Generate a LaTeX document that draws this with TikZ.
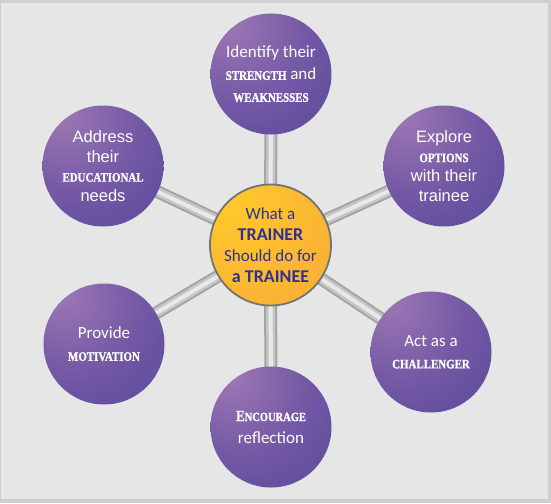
\documentclass[tikz,border=0pt]{standalone}
\usepackage{fontspec}
\setmainfont{Carlito}
\newfontfamily\arialfont{Liberation Sans}
\newfontfamily\capsfont[FakeStretch=0.84,FakeBold=1.2]{Liberation Serif}
\newcommand{\capsword}[1]{{\capsfont\bfseries\fontsize{13}{14}\selectfont #1}}

\definecolor{panelgray}{HTML}{E6E6E6}
\definecolor{framegray}{HTML}{CFCFCF}
\definecolor{spokedark}{HTML}{A4A4A4}
\definecolor{spokemid}{HTML}{C6C6C6}
\definecolor{spokelight}{HTML}{E9E9E9}
\definecolor{ballhi}{HTML}{9E78B4}
\definecolor{ballmid}{HTML}{7358A5}
\definecolor{balllo}{HTML}{4C4596}
\definecolor{orhi}{HTML}{FFCB2A}
\definecolor{orlo}{HTML}{F69E3E}
\definecolor{ringgray}{HTML}{737373}
\definecolor{navytext}{HTML}{2F3191}

\pgfdeclareradialshading{purpleball}{\pgfpoint{-18bp}{22bp}}{color(0bp)=(ballhi); color(28bp)=(ballmid); color(60bp)=(balllo); color(100bp)=(balllo)}
\pgfdeclareradialshading{orangeball}{\pgfpoint{-20bp}{20bp}}{color(0bp)=(orhi); color(72bp)=(orlo); color(100bp)=(orlo)}

\pgfdeclarelayer{bg}
\pgfdeclarelayer{spokes}
\pgfsetlayers{bg,spokes,main}

\begin{document}
\begin{tikzpicture}[x=1pt,y=-1pt,
    outerball/.style={circle,minimum size=121pt,inner sep=0pt,shade,shading=purpleball,
        text=white,align=center,font=\fontsize{17}{22}\selectfont},
    arialball/.style={outerball,font=\arialfont\fontsize{16.5}{19.5}\selectfont},
    centerball/.style={circle,minimum size=121pt,inner sep=0pt,shade,shading=orangeball,
        draw=ringgray,line width=1.8pt,text=navytext,align=center,font=\fontsize{17}{21}\selectfont}]
    \useasboundingbox (0,0) rectangle (551,503);

    % Panel
    \begin{pgfonlayer}{bg}
        \fill[framegray] (0,0) rectangle (551,503);
        \fill[panelgray] (1,3) rectangle (548,499);
    \end{pgfonlayer}

    % Centre
    \node[centerball] (trainer) at (270.5,245) {What a\\{\bfseries\fontsize{18}{21}\selectfont TRAINER}\\Should do for\\{\bfseries\fontsize{18}{21}\selectfont a TRAINEE}};

    % Tasks round the centre
    \node[outerball] (strength) at (271,74) {Identify their\\\capsword{STRENGTH} and\\\capsword{WEAKNESSES}};
    \node[arialball] (options) at (444,166) {Explore\\\capsword{OPTIONS}\\with their\\trainee};
    \node[outerball] (challenger) at (431,352) {Act as a\\\capsword{CHALLENGER}};
    \node[outerball] (reflection) at (271,427) {{\capsfont\bfseries\fontsize{15.5}{14}\selectfont E\fontsize{12.5}{14}\selectfont NCOURAGE}\\reflection};
    \node[outerball] (motivation) at (104,344) {Provide\\\capsword{MOTIVATION}};
    \node[arialball] (educational) at (103,166) {Address\\their\\\capsword{EDUCATIONAL}\\needs};

    % Spokes
    \begin{pgfonlayer}{spokes}
        \foreach \task in {strength,options,challenger,reflection,motivation,educational} {
            \draw[spokedark,line width=13pt] (trainer.center) -- (\task.center);
            \draw[spokemid,line width=9pt] (trainer.center) -- (\task.center);
            \draw[spokelight,line width=4pt] (trainer.center) -- (\task.center);
        }
    \end{pgfonlayer}
\end{tikzpicture}
\end{document}
